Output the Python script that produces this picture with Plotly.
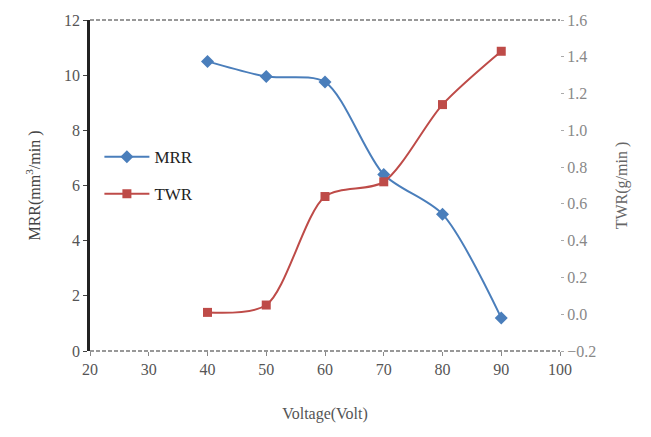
import plotly.graph_objects as go

voltage = [40, 50, 60, 70, 80, 90]
mrr = [10.5, 9.95, 9.75, 6.4, 4.96, 1.2]
twr = [0.01, 0.05, 0.64, 0.72, 1.14, 1.43]

FONT = "Liberation Serif"
TICKCOL = "#555555"

fig = go.Figure()
fig.add_trace(go.Scatter(
    x=voltage, y=mrr, name="MRR", mode="lines+markers", legendgroup="a",
    line=dict(color="#4A7EBB", width=2, shape="spline", smoothing=0.8),
    marker=dict(symbol="diamond", size=10, color="#4A7EBB"),
))
fig.add_trace(go.Scatter(
    x=voltage, y=twr, name="TWR", mode="lines+markers", yaxis="y2", legendgroup="b",
    line=dict(color="#BE4B48", width=2, shape="spline", smoothing=0.8),
    marker=dict(symbol="square", size=9, color="#BE4B48"),
))

fig.update_layout(
    width=651, height=437,
    margin=dict(l=90, r=91, t=15, b=86),
    paper_bgcolor="white", plot_bgcolor="white",
    font=dict(family=FONT, size=16, color=TICKCOL),
    showlegend=True,
    legend=dict(x=0.02, y=0.64, xanchor="left", yanchor="top",
                bgcolor="rgba(0,0,0,0)", font=dict(family=FONT, size=17, color="#222222"),
                itemwidth=45, tracegroupgap=12),
    xaxis=dict(range=[20, 100], dtick=10, tick0=20, showgrid=False, zeroline=False,
               showline=False, ticks="outside", ticklen=4, tickcolor="#888888",
               tickfont=dict(family=FONT, size=16, color=TICKCOL),
               title=dict(text="Voltage(Volt)", font=dict(family=FONT, size=16, color=TICKCOL), standoff=30)),
    yaxis=dict(range=[0, 12], dtick=2, showgrid=False, zeroline=False,
               showline=True, linecolor="#222222", linewidth=2.5,
               ticks="outside", ticklen=4, tickcolor="#444444",
               tickfont=dict(family=FONT, size=16, color=TICKCOL),
               title=dict(text="MRR(mm<sup>3</sup>/min )", font=dict(family=FONT, size=16, color="#444444"), standoff=20)),
    yaxis2=dict(range=[-0.2, 1.6], dtick=0.2, tick0=-0.2, tickformat=".1f", overlaying="y", side="right",
                showgrid=False, zeroline=False, showline=False,
                ticks="outside", ticklen=3, tickcolor="#aaaaaa",
                tickfont=dict(family=FONT, size=16, color="#888888"),
                title=dict(text="TWR(g/min )", font=dict(family=FONT, size=16, color="#666666"), standoff=20)),
    shapes=[
        dict(type="line", xref="paper", yref="paper", x0=0, x1=1, y0=1, y1=1,
             line=dict(color="#333333", width=1.2, dash="4px,2px")),
        dict(type="line", xref="paper", yref="paper", x0=0, x1=1, y0=0, y1=0,
             line=dict(color="#333333", width=1.2, dash="4px,2px")),
    ],
)

fig.write_html("out.html")
